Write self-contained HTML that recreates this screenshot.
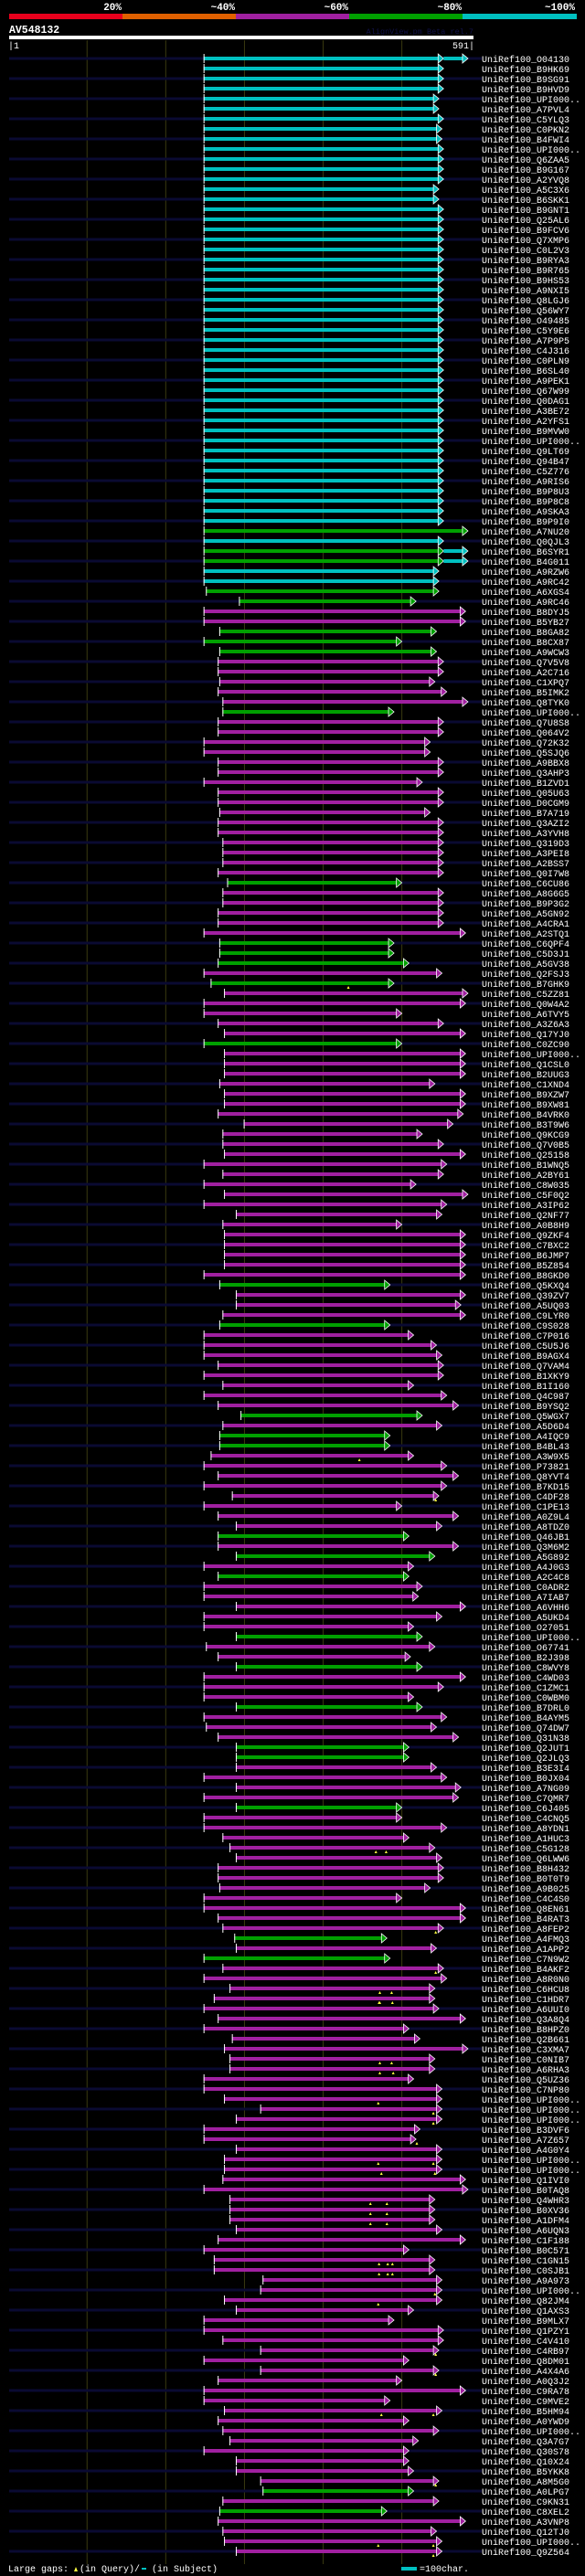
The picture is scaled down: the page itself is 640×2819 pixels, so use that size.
<!DOCTYPE html>
<html><head><meta charset="utf-8"><style>
html,body{margin:0;padding:0;background:#000;}
svg{display:block;}
text{font-family:"Liberation Mono",monospace;}
</style></head><body>
<svg id="chart" width="640" height="2819" viewBox="0 0 640 2819" xmlns="http://www.w3.org/2000/svg">
<rect x="0" y="0" width="640" height="2819" fill="#000"/>
<g>
<rect x="10" y="15" width="124" height="6" fill="#e8001c"/>
<rect x="134" y="15" width="124" height="6" fill="#e06000"/>
<rect x="258" y="15" width="124" height="6" fill="#a020a0"/>
<rect x="382" y="15" width="124" height="6" fill="#00a000"/>
<rect x="506" y="15" width="125" height="6" fill="#00c0c0"/>
<text x="133" y="11" fill="#fff" font-size="11" font-weight="bold" text-anchor="end">20%</text>
<text x="257" y="11" fill="#fff" font-size="11" font-weight="bold" text-anchor="end">~40%</text>
<text x="381" y="11" fill="#fff" font-size="11" font-weight="bold" text-anchor="end">~60%</text>
<text x="505" y="11" fill="#fff" font-size="11" font-weight="bold" text-anchor="end">~80%</text>
<text x="629" y="11" fill="#fff" font-size="11" font-weight="bold" text-anchor="end">~100%</text>
</g>
<text x="10" y="36" fill="#fff" font-size="11.5" font-weight="bold">AV548132</text>
<text x="518" y="37" fill="#12124a" font-size="8.5" text-anchor="end">AlignView.pm Beta rel.7</text>
<rect x="10" y="39" width="508" height="4" fill="#fff"/>
<text x="9" y="53" fill="#fff" font-size="10">|1</text>
<text x="519" y="53" fill="#fff" font-size="10" text-anchor="end">591|</text>
<g id="grid"></g>
<g id="rows"></g>
<g>
<text x="9" y="2814" fill="#fff" font-size="10">Large gaps:</text>
<path d="M81,2814 L83,2809 L85,2814 Z" fill="#ffff40"/>
<text x="87" y="2814" fill="#fff" font-size="10">(in Query)/</text>
<rect x="155" y="2810" width="5" height="2" fill="#00c0c0"/>
<text x="166" y="2814" fill="#fff" font-size="10">(in Subject)</text>
<rect x="439" y="2809" width="17" height="4" fill="#00c0c0"/>
<text x="459" y="2814" fill="#fff" font-size="10">=100char.</text>
</g>
</svg>
<script>
var queryLength = 591;
var gridTicks = [100, 200, 300, 400, 500];
var names = ["O04130","B9HK69","B9SG91","B9HVD9","UPI000..","A7PVL4","C5YLQ3","C0PKN2","B4FWI4","UPI000..",
"Q6ZAA5","B9G167","A2YVQ8","A5C3X6","B6SKK1","B9GNT1","Q25AL6","B9FCV6","Q7XMP6","C0L2V3",
"B9RYA3","B9R765","B9HS53","A9NXI5","Q8LGJ6","Q56WY7","O49485","C5Y9E6","A7P9P5","C4J316",
"C0PLN9","B6SL40","A9PEK1","Q67W99","Q0DAG1","A3BE72","A2YFS1","B9MVW0","UPI000..","Q9LT69",
"Q94B47","C5Z776","A9RIS6","B9P8U3","B9P8C8","A9SKA3","B9P9I0","A7NU20","Q0QJL3","B6SYR1",
"B4G011","A9RZW6","A9RC42","A6XGS4","A9RC46","B8DYJ5","B5YB27","B8GA82","B8CX87","A9WCW3",
"Q7V5V8","A2C716","C1XPQ7","B5IMK2","Q8TYK0","UPI000..","Q7U8S8","Q064V2","Q72K32","Q5SJQ6",
"A9BBX8","Q3AHP3","B1ZVD1","Q05U63","D0CGM9","B7A719","Q3AZI2","A3YVH8","Q319D3","A3PEI8",
"A2BSS7","Q0I7W8","C6CU86","A8G6G5","B9P3G2","A5GN92","A4CRA1","A2STQ1","C6QPF4","C5D3J1",
"A5GV38","Q2FSJ3","B7GHK9","C5ZZ81","Q0W4A2","A6TVY5","A3Z6A3","Q17YJ0","C0ZC90","UPI000..",
"Q1CSL0","B2UUG3","C1XND4","B9XZW7","B9XW81","B4VRK0","B3T9W6","Q9KCG9","Q7V0B5","Q25158",
"B1WNQ5","A2BY61","C8W035","C5F0Q2","A3IP62","Q2NF77","A0B8H9","Q9ZKF4","C7BXC2","B6JMP7",
"B5Z854","B8GKD0","Q5KXQ4","Q39ZV7","A5UQ03","C9LYR0","C9S028","C7P016","C5U5J6","B9AGX4",
"Q7VAM4","B1XKY9","B1I160","Q4C987","B9YSQ2","Q5WGX7","A5D6D4","A4IQC9","B4BL43","A3W9X5",
"P73821","Q8YVT4","B7KD15","C4DF28","C1PE13","A0Z9L4","A8TDZ0","Q46JB1","Q3M6M2","A5G892",
"A4J0G3","A2C4C8","C0ADR2","A7IAB7","A6VHH6","A5UKD4","O27051","UPI000..","O67741","B2J398",
"C8WVY8","C4WD03","C1ZMC1","C0WBM0","B7DRL0","B4AYM5","Q74DW7","Q31N38","Q2JUT1","Q2JLQ3",
"B3E3I4","B0JX04","A7NG09","C7QMR7","C6J405","C4CNQ5","A8YDN1","A1HUC3","C5G128","Q6LWW6",
"B8H432","B0T0T9","A9B025","C4C4S0","Q8EN61","B4RAT3","A8FEP2","A4FMQ3","A1APP2","C7N9W2",
"B4AKF2","A8R0N0","C6HCU8","C1HDR7","A6UUI0","Q3A8Q4","B8HPZ0","Q2B661","C3XMA7","C0NIB7",
"A6RHA3","Q5UZ36","C7NP80","UPI000..","UPI000..","UPI000..","B3DVF6","A7Z657","A4G0Y4","UPI000..",
"UPI000..","Q1IVI0","B0TAQ8","Q4WHR3","B0XV36","A1DFM4","A6UQN3","C1F188","B0C571","C1GN15",
"C0SJB1","A9A973","UPI000..","Q82JM4","Q1AXS3","B9MLX7","Q1PZY1","C4V410","C4RB97","Q8DM01",
"A4X4A6","A0Q3J2","C9RA78","C9MVE2","B5HM94","A0YWD9","UPI000..","Q3A7G7","Q30S78","Q10X24",
"B5YKK8","A8M5G0","A0LPG7","C9KN31","C8XEL2","A3VNP8","Q12TJ0","UPI000..","Q9Z564"];
var colorCodes = "CCCCCCCCCC"+"CCCCCCCCCC"+"CCCCCCCCCC"+"CCCCCCCCCC"+"CCCCCCCGCG"+
"GCCGGMMGGG"+"MMMMMGMMMM"+"MMMMMMMMMM"+"MMGMMMMMGG"+"GMGMMMMMGM"+
"MMMMMMMMMM"+"MMMMMMMMMM"+"MMGMMMGMMM"+"MMMMMGMGGM"+"MMMMMMMGMG"+
"MGMMMMMGMM"+"GMMMGMMMGG"+"MMMMGMMMMM"+"MMMMMMMGMG"+"MMMMMMMMMM"+
"MMMMMMMMMM"+"MMMMMMMMMM"+"MMMMMMMMMM"+"MMMMMMMMMM"+"MMGMGMMMM";
var starts = [248,248,248,248,248,248,248,248,248,248,
248,248,248,248,248,248,248,248,248,248,
248,248,248,248,248,248,248,248,248,248,
248,248,248,248,248,248,248,248,248,248,
248,248,248,248,248,248,248,248,248,248,
248,248,248,251,293,248,248,268,248,268,
266,266,268,266,272,272,266,266,248,248,
266,266,248,266,266,268,266,266,272,272,
272,266,278,272,272,266,266,248,268,268,
266,248,257,274,248,248,266,274,248,274,
274,274,268,274,274,266,299,272,272,274,
248,272,248,274,248,289,272,274,274,274,
274,248,268,289,289,272,268,248,248,248,
266,248,272,248,266,295,272,268,268,257,
248,266,248,284,248,266,289,266,266,289,
248,266,248,248,289,248,248,289,251,266,
289,248,248,248,289,248,251,266,289,289,
289,248,289,248,289,248,248,272,281,289,
266,266,268,248,248,266,272,287,289,248,
272,248,281,261,248,266,248,284,274,281,
281,248,248,274,320,289,248,248,289,274,
274,272,248,281,281,281,289,266,248,261,
261,323,320,274,289,248,248,272,320,248,
320,266,248,248,274,266,272,281,248,289,
289,320,323,272,268,266,272,274,289];
var ends = [553,553,553,553,547,547,553,551,551,553,
553,553,553,547,547,553,553,553,553,553,
553,553,553,553,553,553,553,553,553,553,
553,553,553,553,553,553,553,553,553,553,
553,553,553,553,553,553,553,584,553,553,
553,547,547,547,518,581,581,544,500,544,
553,553,542,557,584,490,553,553,536,536,
553,553,526,553,553,536,553,553,553,553,
553,553,500,553,553,553,553,581,490,490,
509,551,490,584,581,500,553,581,500,581,
581,581,542,581,581,578,565,526,553,581,
557,553,518,584,557,551,500,581,581,581,
581,581,485,581,575,581,485,515,544,551,
553,553,515,557,572,526,551,485,485,515,
557,572,557,547,500,572,551,509,572,542,
515,509,526,521,581,551,515,526,542,511,
526,581,553,515,526,557,544,572,509,509,
544,557,575,572,500,500,557,509,542,551,
553,553,536,500,581,581,553,481,544,485,
553,557,542,542,547,581,509,523,584,542,
542,515,551,551,551,551,523,518,551,551,
551,581,584,542,542,542,551,581,509,542,
542,551,551,551,515,490,553,553,547,509,
547,500,581,485,551,509,547,521,509,509,
515,547,515,547,481,581,544,551,551];
var gapRows = [92,139,143,178,186,190,192,193,199,200,203,204,205,207,209,210,213,214,215,219,220,222,223,228,230,234,241,247,248];
var gapPositions = [[432],[446],[543],[467,480],[543],[543],[472,487],[471,472,488],[472,487],[472,489],[470],[540],[540],[519],[470,540],[474,542],[460,481],[460,481],[460,481],[471,482,488],[471,482,488],[542],[470],[543],[543],[474,540],[543],[470,540],[540]];
var extRows = [0,49,50];
var extColors = ["C","C","C"];
var extEnds = [584,584,584];

var palette = {C:"#00c0c0", G:"#00a000", M:"#a020a0"};
var NS = "http://www.w3.org/2000/svg";
function xScale(p){ return 10 + (p - 1) * 508 / (queryLength - 1); }
function yScale(i){ return 64 + 11 * i; }
function mk(tag, attrs){ var e = document.createElementNS(NS, tag); for (var k in attrs) e.setAttribute(k, attrs[k]); return e; }

var grid = document.getElementById('grid');
gridTicks.forEach(function(t){
  var l = mk('line', {x1: xScale(t), x2: xScale(t), y1: 44, y2: 2806, stroke: '#3a3a10', 'stroke-width': 1});
  
  
  grid.appendChild(l);
});

var rowsG = document.getElementById('rows');
function arrow(g, tipX, y, color){
  var p = mk('polygon', {points: (tipX-6)+','+(y-5)+' '+tipX+','+y+' '+(tipX-6)+','+(y+5), fill: color, stroke: '#fff', 'stroke-width': 0.8});
  
  
  g.appendChild(p);
}
for (var i = 0; i < names.length; i++) {
  var y = yScale(i);
  var g = mk('g', {});
  
  
  if (i % 2 === 0) {
    var bg = mk('rect', {x: 10, y: y - 1.5, width: 517, height: 3, fill: '#0a0a32'});
    
    
    g.appendChild(bg);
  }
  var col = palette[colorCodes.charAt(i)];
  var x0 = xScale(starts[i]), x1 = xScale(ends[i]);
  var bar = mk('rect', {x: x0, y: y - 2, width: Math.max(0, x1 - 5 - x0), height: 4, fill: col});
  
  
  g.appendChild(bar);
  var tick = mk('line', {x1: x0 + 0.5, x2: x0 + 0.5, y1: y - 5, y2: y + 5, stroke: '#fff', 'stroke-width': 1});
  
  
  g.appendChild(tick);
  arrow(g, x1, y, col);
  var ei = extRows.indexOf(i);
  if (ei >= 0) {
    var xe = xScale(extEnds[ei]);
    var eb = mk('rect', {x: x1, y: y - 2, width: xe - 5 - x1, height: 4, fill: palette[extColors[ei]]});
    
    
    g.appendChild(eb);
    arrow(g, xe, y, palette[extColors[ei]]);
  }
  var gi = gapRows.indexOf(i);
  if (gi >= 0) {
    gapPositions[gi].forEach(function(gp){
      var gx = xScale(gp);
      var m = mk('path', {d: 'M'+(gx-1.5)+','+(y+6)+' L'+gx+','+(y+3)+' L'+(gx+1.5)+','+(y+6)+' Z', fill: '#ffff40'});
      
      
      g.appendChild(m);
    });
  }
  var t = mk('text', {x: 527, y: y + 4, fill: '#fff', 'font-size': 10});
  t.textContent = 'UniRef100_' + names[i];
  
  
  g.appendChild(t);
  rowsG.appendChild(g);
}
</script>
</body></html>
